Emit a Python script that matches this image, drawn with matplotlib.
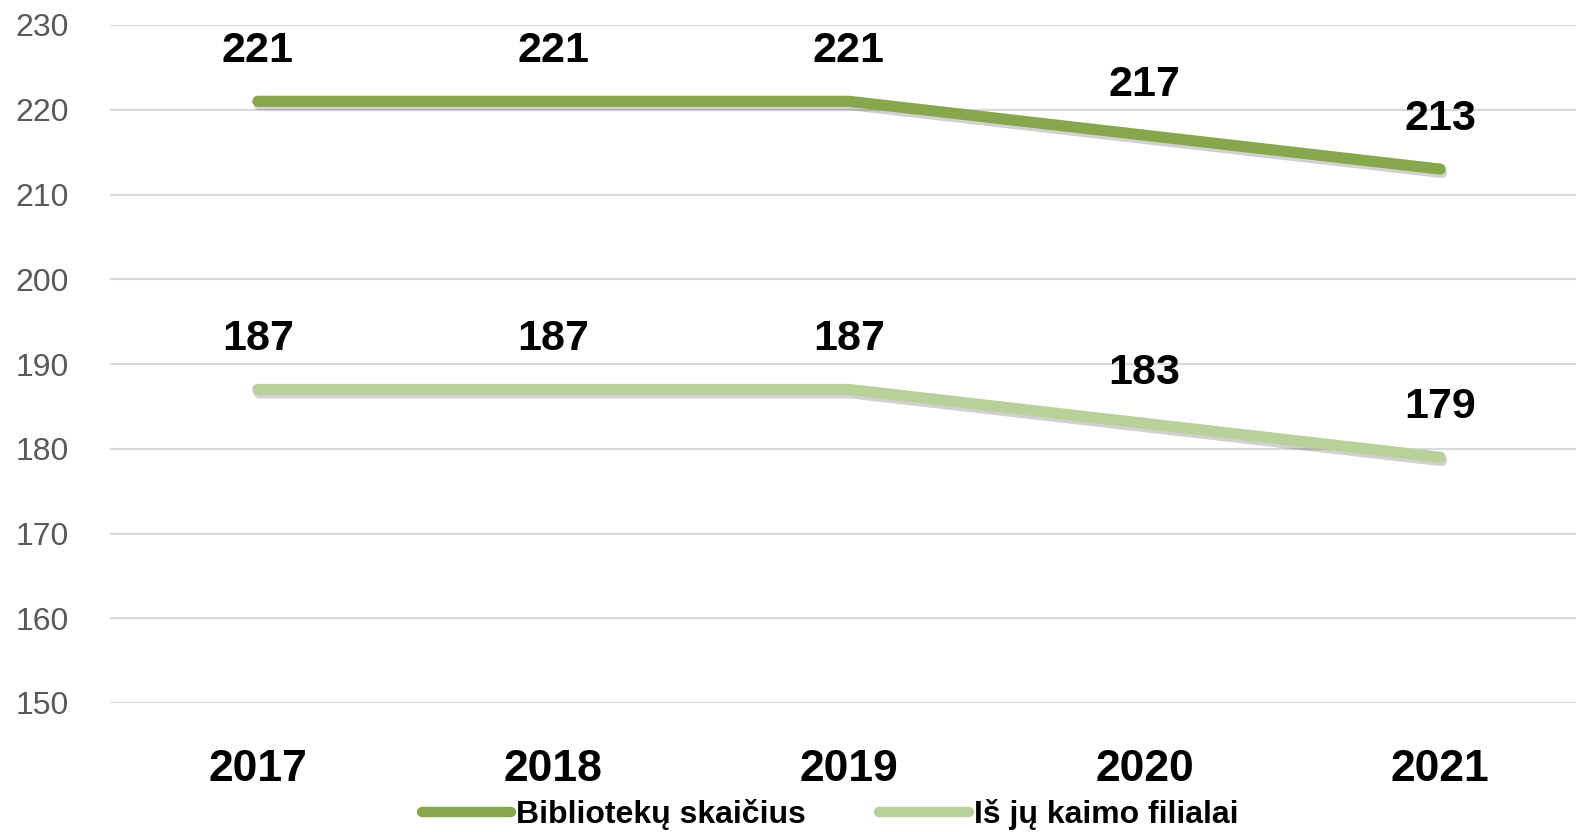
import matplotlib
matplotlib.use("Agg")
import matplotlib.pyplot as plt
import matplotlib.patheffects as pe

# duomenys
years = ["2017", "2018", "2019", "2020", "2021"]
bibliotekos = [221, 221, 221, 217, 213]
kaimo_filialai = [187, 187, 187, 183, 179]

series_names = ["Bibliotekų skaičius", "Iš jų kaimo filialai"]
colors = ["#86A74B", "#B8D09A"]
y_ticks = [150, 160, 170, 180, 190, 200, 210, 220, 230]

plt.rcParams["font.family"] = ["Liberation Sans", "DejaVu Sans"]

W, H = 1576, 832
fig = plt.figure(figsize=(W / 100, H / 100), dpi=100)
# asis truputi iseina uz paveikslo desinio krasto, kaip originale
ax = fig.add_axes([110 / W, 1 - 703 / H, 1478 / W, 678 / H])

x = list(range(len(years)))
shadow = [pe.SimpleLineShadow(offset=(1, -2.5), shadow_color="black", alpha=0.18), pe.Normal()]
for vals, name, col in zip([bibliotekos, kaimo_filialai], series_names, colors):
    ax.plot(x, vals, color=col, lw=8, solid_capstyle="round", solid_joinstyle="round",
            label=name, path_effects=shadow, zorder=3)
    for xi, v in zip(x, vals):
        ax.annotate(str(v), (xi, v), xytext=(0, 36), textcoords="offset points",
                    ha="center", va="center", fontsize=31, fontweight="bold", color="black")

ax.set_xlim(-0.5, 4.5)
ax.set_ylim(150, 230)
ax.set_yticks(y_ticks)
ax.set_xticks(x)
ax.set_xticklabels(years, fontsize=32, fontweight="bold")
ax.tick_params(axis="y", labelsize=23, labelcolor="#595959", length=0, pad=68)
ax.tick_params(axis="x", length=0, pad=33)
for lab in ax.get_yticklabels():
    lab.set_horizontalalignment("left")
ax.grid(axis="y", color="#D9D9D9", lw=1.5)
ax.set_axisbelow(True)
for s in ax.spines.values():
    s.set_visible(False)

leg = fig.legend(loc="center", bbox_to_anchor=(830 / W, 1 - 815 / H), ncol=2, frameon=False,
                 handlelength=2.8, handletextpad=0.15, columnspacing=2.3,
                 prop={"weight": "bold", "size": 23})
for line in leg.get_lines():
    line.set_path_effects([])
    line.set_linewidth(7.5)
    line.set_solid_capstyle("round")

fig.savefig("out.png", dpi=100)
